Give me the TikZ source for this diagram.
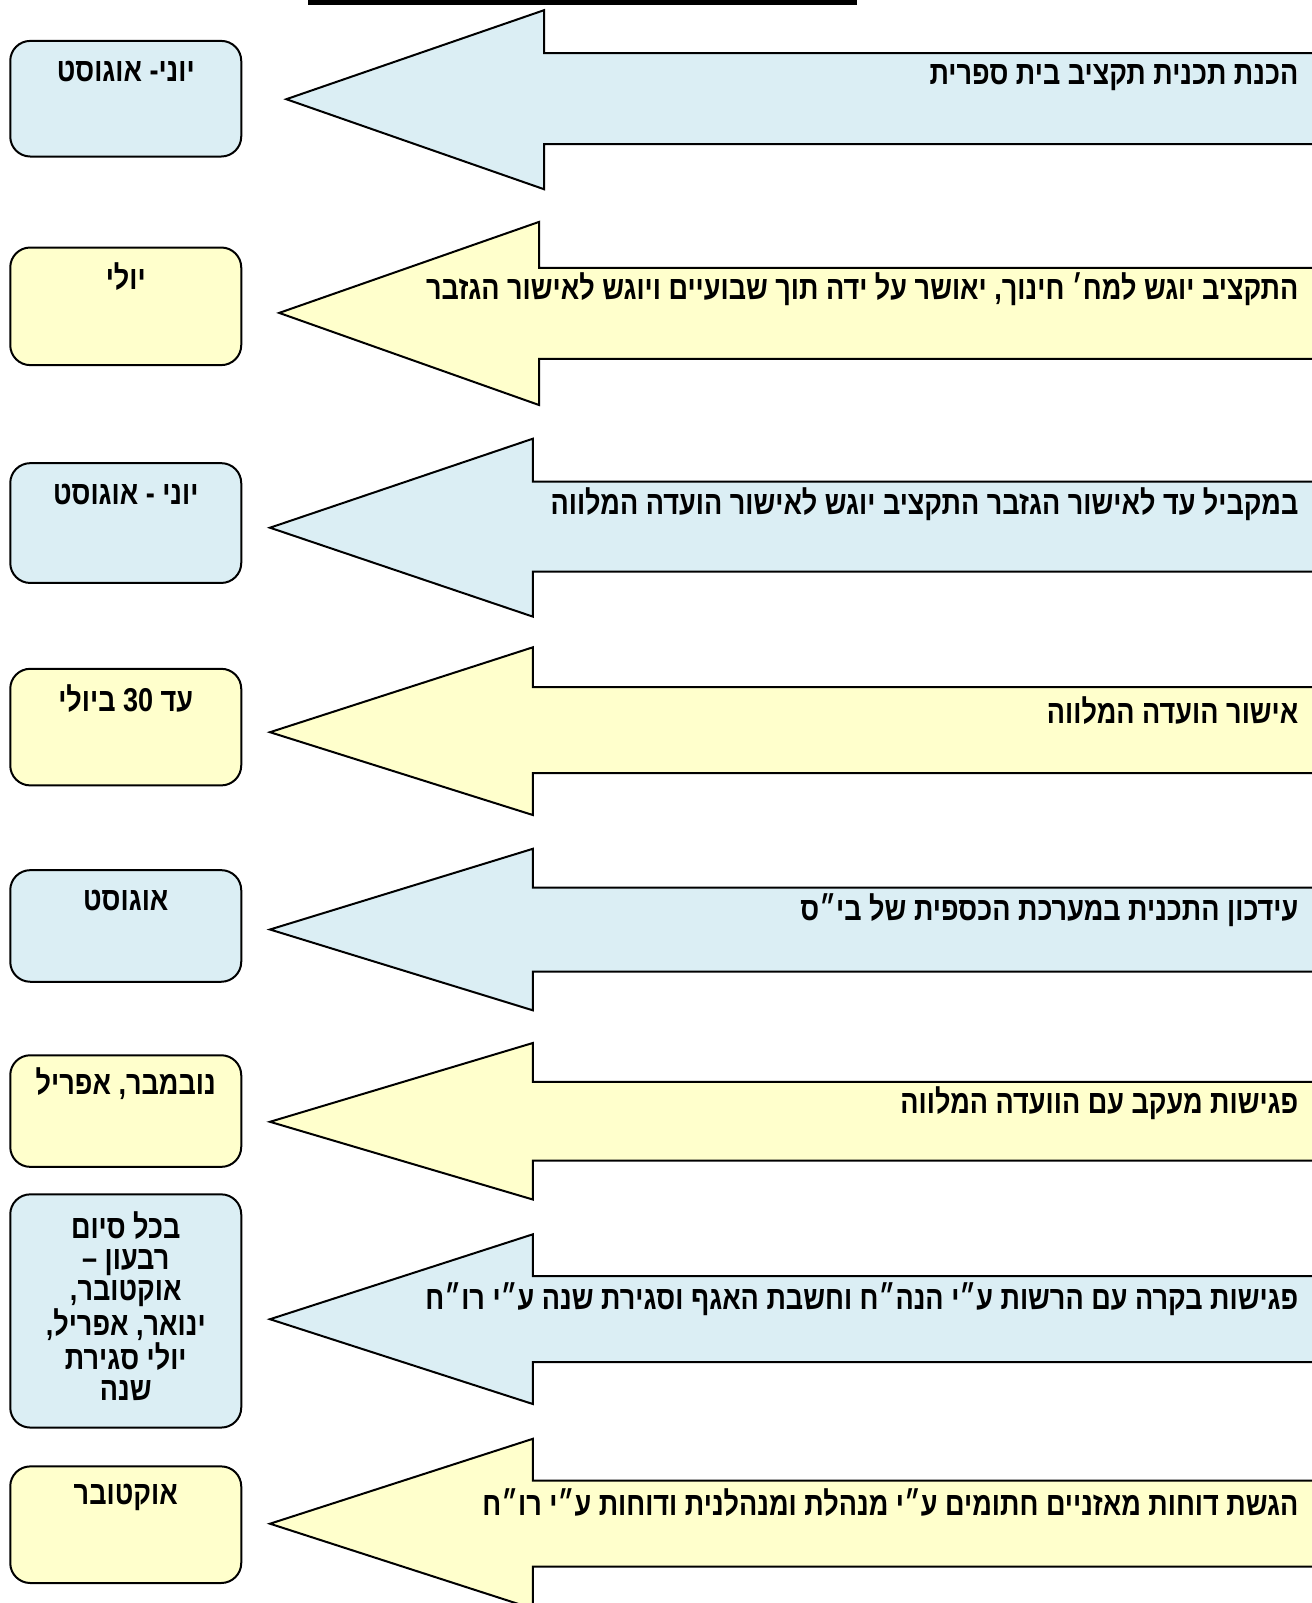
\documentclass[tikz,border=0pt]{standalone}
\usepackage{fontspec}
\usetikzlibrary{positioning}
\TeXXeTstate=1
\newfontfamily\hebfont[Script=Hebrew,FakeStretch=0.82]{Liberation Sans}
\newcommand{\heb}[1]{\beginR #1\endR}
\definecolor{stageblue}{RGB}{219,238,244}
\definecolor{stageyellow}{RGB}{255,255,204}
\tikzset{
        % Date boxes on the left
        box_base/.style={draw=black, line width=1pt, rounded corners=10pt, minimum width=115.5pt, inner sep=0pt},
        box_blue/.style={box_base, fill=stageblue},
        box_yellow/.style={box_base, fill=stageyellow},
        % Big arrows pointing left
        arrow_base/.style={draw=black, line width=1pt, line join=miter},
        arrow_blue/.style={arrow_base, fill=stageblue},
        arrow_yellow/.style={arrow_base, fill=stageyellow},
        % Texts
        stage_text/.style={anchor=east, inner sep=0pt, font=\hebfont\bfseries\fontsize{16.5}{16}\selectfont},
        date_text/.style={inner sep=0pt, align=center, font=\hebfont\bfseries\fontsize{16.5}{15.6}\selectfont}
}
\begin{document}
\begin{tikzpicture}[x=0.5pt, y=-0.5pt]
        \useasboundingbox (0,0) rectangle (1312,1603);
        \clip (0,0) rectangle (1312,1603);
        \fill[black] (307.8,0) rectangle (857,4.5);

        % Arrows
        \draw[arrow_blue] (286.3,99.2) -- (544,10.2) -- (544,53.2) -- (1330,53.2) -- (1330,144.2) -- (544,144.2) -- (544,189.2) -- cycle;
        \draw[arrow_yellow] (279.2,312.9) -- (539,221.9) -- (539,267.9) -- (1330,267.9) -- (1330,358.9) -- (539,358.9) -- (539,405) -- cycle;
        \draw[arrow_blue] (270,527.7) -- (532.8,438.7) -- (532.8,481.6) -- (1330,481.6) -- (1330,571.6) -- (532.8,571.6) -- (532.8,616.6) -- cycle;
        \draw[arrow_yellow] (270,732.2) -- (532.8,647.3) -- (532.8,687.2) -- (1330,687.2) -- (1330,773.1) -- (532.8,773.1) -- (532.8,815) -- cycle;
        \draw[arrow_blue] (270,929.5) -- (532.8,848.8) -- (532.8,887.6) -- (1330,887.6) -- (1330,971.5) -- (532.8,971.5) -- (532.8,1010.3) -- cycle;
        \draw[arrow_yellow] (270,1121.8) -- (532.8,1043) -- (532.8,1081.9) -- (1330,1081.9) -- (1330,1160.7) -- (532.8,1160.7) -- (532.8,1199.5) -- cycle;
        \draw[arrow_blue] (270,1319.2) -- (532.8,1234.3) -- (532.8,1276.2) -- (1330,1276.2) -- (1330,1362.1) -- (532.8,1362.1) -- (532.8,1404) -- cycle;
        \draw[arrow_yellow] (270,1523.7) -- (532.8,1438.8) -- (532.8,1480.7) -- (1330,1480.7) -- (1330,1566.6) -- (532.8,1566.6) -- (532.8,1608.6) -- cycle;

        % Arrow texts
        \node[stage_text] (stage1) at (1298.7,77.5) {\heb{הכנת תכנית תקציב בית ספרית}};
        \node[stage_text] (stage2) at (1298.7,289) {\heb{התקציב יוגש למח׳ חינוך, יאושר על ידה תוך שבועיים ויוגש לאישור הגזבר}};
        \node[stage_text] (stage3) at (1298.7,504.5) {\heb{במקביל עד לאישור הגזבר התקציב יוגש לאישור הועדה המלווה}};
        \node[stage_text] (stage4) at (1298.7,711) {\heb{אישור הועדה המלווה}};
        \node[stage_text] (stage5) at (1298.7,910.5) {\heb{עידכון התכנית במערכת הכספית של בי״ס}};
        \node[stage_text] (stage6) at (1298.7,1103.5) {\heb{פגישות מעקב עם הוועדה המלווה}};
        \node[stage_text] (stage7) at (1298.7,1299) {\heb{פגישות בקרה עם הרשות ע״י הנה״ח וחשבת האגף וסגירת שנה ע״י רו״ח}};
        \node[stage_text] (stage8) at (1298.7,1502.5) {\heb{הגשת דוחות מאזניים חתומים ע״י מנהלת ומנהלנית ודוחות ע״י רו״ח}};

        % Date boxes
        \node[box_blue, minimum height=57.8pt] (date1) at (125.75,98.7) {};
        \node[box_yellow, minimum height=58.8pt] (date2) at (125.75,306.3) {};
        \node[box_blue, minimum height=59.9pt] (date3) at (125.75,523.05) {};
        \node[box_yellow, minimum height=58.3pt] (date4) at (125.75,727.1) {};
        \node[box_blue, minimum height=55.8pt] (date5) at (125.75,925.95) {};
        \node[box_yellow, minimum height=55.8pt] (date6) at (125.75,1111.05) {};
        \node[box_blue, minimum height=116.6pt] (date7) at (125.75,1310.95) {};
        \node[box_yellow, minimum height=58.3pt] (date8) at (125.75,1524.7) {};

        \node[date_text] (date1_text) at ([yshift=-16pt]date1.north) {\heb{יוני- אוגוסט}};
        \node[date_text] (date2_text) at ([yshift=-15pt]date2.north) {\heb{יולי}};
        \node[date_text] (date3_text) at ([yshift=-16pt]date3.north) {\heb{יוני - אוגוסט}};
        \node[date_text] (date4_text) at ([yshift=-15.5pt]date4.north) {\heb{עד \beginL 30\endL{} ביולי}};
        \node[date_text] (date5_text) at ([yshift=-15.5pt]date5.north) {\heb{אוגוסט}};
        \node[date_text] (date6_text) at ([yshift=-14.5pt]date6.north) {\heb{נובמבר, אפריל}};
        \node[date_text] (date7_text) at ([yshift=2.5pt]date7.center) {\heb{בכל סיום}\\ \heb{רבעון –}\\ \heb{אוקטובר,}\\ \heb{ינואר, אפריל,}\\ \heb{יולי סגירת}\\ \heb{שנה}};
        \node[date_text] (date8_text) at ([yshift=-16pt]date8.north) {\heb{אוקטובר}};
\end{tikzpicture}
\end{document}
